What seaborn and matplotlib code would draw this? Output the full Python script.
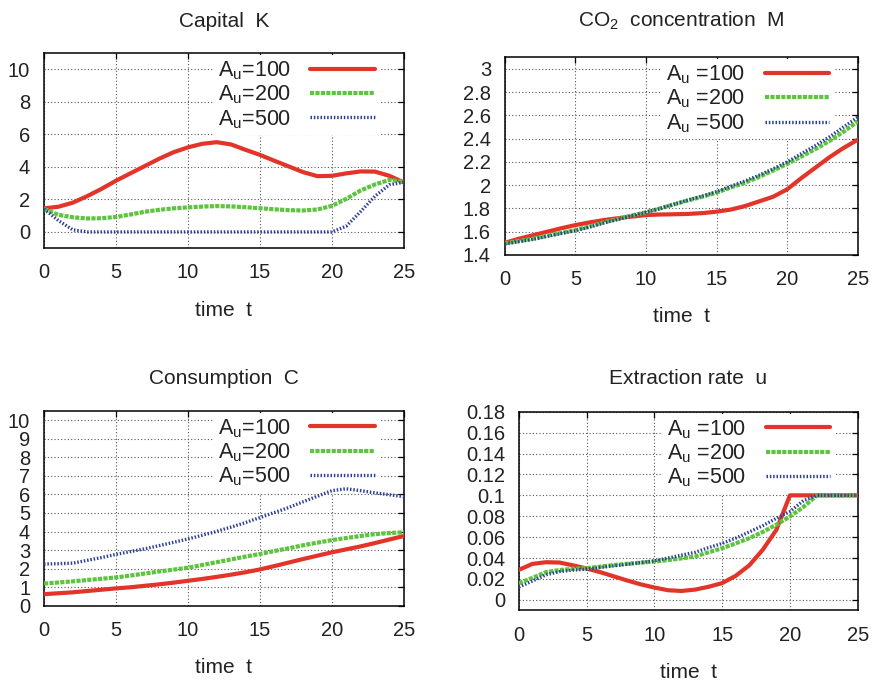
import numpy as np
import pandas as pd
import seaborn as sns
import matplotlib
matplotlib.use("Agg")
import matplotlib.pyplot as plt

# ---------------- data ----------------
t = list(range(0, 26))

capital_100 = [1.45, 1.55, 1.8, 2.2, 2.65, 3.15, 3.6, 4.05, 4.5, 4.9, 5.2, 5.42, 5.52,
               5.38, 5.05, 4.74, 4.38, 4.03, 3.68, 3.43, 3.45, 3.6, 3.72, 3.71, 3.45, 3.05]
capital_200 = [1.41, 1.05, 0.9, 0.83, 0.84, 0.92, 1.07, 1.24, 1.36, 1.45, 1.51, 1.56, 1.59,
               1.57, 1.52, 1.46, 1.39, 1.34, 1.32, 1.38, 1.6, 2.03, 2.55, 2.92, 3.2, 3.09]
capital_500 = [1.41, 0.7, 0.13, 0, 0, 0, 0, 0, 0, 0, 0, 0, 0,
               0, 0, 0, 0, 0, 0, 0, 0, 0.35, 1.25, 2.2, 2.9, 3.05]

co2_100 = [1.505, 1.54, 1.57, 1.60, 1.63, 1.657, 1.68, 1.70, 1.716, 1.73, 1.743, 1.748, 1.75,
           1.753, 1.76, 1.772, 1.79, 1.82, 1.86, 1.90, 1.964, 2.06, 2.15, 2.24, 2.32, 2.39]
co2_200 = [1.50, 1.52, 1.54, 1.565, 1.59, 1.614, 1.645, 1.68, 1.71, 1.74, 1.767, 1.80, 1.835,
           1.87, 1.90, 1.936, 1.98, 2.02, 2.07, 2.125, 2.182, 2.245, 2.31, 2.38, 2.46, 2.547]
co2_500 = [1.495, 1.515, 1.535, 1.56, 1.585, 1.609, 1.64, 1.675, 1.705, 1.737, 1.767, 1.80, 1.837,
           1.873, 1.907, 1.944, 1.99, 2.035, 2.085, 2.14, 2.20, 2.27, 2.34, 2.415, 2.50, 2.584]

cons_100 = [0.63, 0.68, 0.73, 0.8, 0.87, 0.94, 1.0, 1.08, 1.16, 1.25, 1.35, 1.45, 1.56,
            1.68, 1.81, 1.96, 2.14, 2.33, 2.52, 2.7, 2.88, 3.04, 3.2, 3.38, 3.57, 3.76]
cons_200 = [1.2, 1.26, 1.32, 1.39, 1.46, 1.53, 1.63, 1.74, 1.85, 1.95, 2.05, 2.2, 2.35,
            2.5, 2.65, 2.79, 2.95, 3.1, 3.26, 3.4, 3.54, 3.65, 3.76, 3.86, 3.92, 3.96]
cons_500 = [2.25, 2.27, 2.3, 2.45, 2.6, 2.77, 2.92, 3.07, 3.24, 3.42, 3.6, 3.8, 4.01,
            4.24, 4.48, 4.75, 5.02, 5.29, 5.6, 5.9, 6.2, 6.3, 6.2, 6.08, 5.98, 5.88]

extr_100 = [0.0287, 0.0344, 0.036, 0.0357, 0.033, 0.030, 0.0265, 0.0225, 0.0185, 0.0148, 0.0118,
            0.0092, 0.0085, 0.0098, 0.0125, 0.016, 0.023, 0.033, 0.048, 0.067, 0.1,
            0.1, 0.1, 0.1, 0.1, 0.1]
extr_200 = [0.016, 0.021, 0.0265, 0.0285, 0.0297, 0.0303, 0.0318, 0.0333, 0.0345, 0.0356, 0.0367,
            0.038, 0.0397, 0.0415, 0.0455, 0.0494, 0.054, 0.059, 0.065, 0.072, 0.0797,
            0.089, 0.1, 0.1, 0.1, 0.1]
extr_500 = [0.0122, 0.018, 0.024, 0.027, 0.0285, 0.0293, 0.031, 0.0325, 0.034, 0.0357, 0.0373,
            0.040, 0.0428, 0.0455, 0.05, 0.054, 0.059, 0.065, 0.071, 0.078, 0.0845,
            0.095, 0.1, 0.1, 0.1, 0.1]

labels_tight = ["A$_{u}$=100", "A$_{u}$=200", "A$_{u}$=500"]
labels_spaced = ["A$_{u}$ =100", "A$_{u}$ =200", "A$_{u}$ =500"]

titles = ["Capital  K", "CO$_{2}$  concentration  M", "Consumption  C", "Extraction rate  u"]
xlabel = "time  t"

# ---------------- style ----------------
sns.set_theme(style="white")
plt.rcParams["font.family"] = ["Liberation Sans", "DejaVu Sans"]
plt.rcParams["mathtext.default"] = "regular"

colors = ["#e3342a", "#5cc43e", "#2c3f9c"]
widths = [3.0, 3.0, 2.4]
styles = ["-", (0, (1.0, 0.3)), (0, (0.45, 0.55))]

fig = plt.figure(figsize=(8.72, 6.8), dpi=100)

positions = [
    [0.0505, 0.635, 0.4125, 0.287],
    [0.579, 0.625, 0.4046, 0.291],
    [0.0505, 0.109, 0.4125, 0.287],
    [0.595, 0.1025, 0.3886, 0.292],
]
series = [
    (capital_100, capital_200, capital_500),
    (co2_100, co2_200, co2_500),
    (cons_100, cons_200, cons_500),
    (extr_100, extr_200, extr_500),
]
ylims = [(-1, 11), (1.4, 3.1), (0, 10.5), (-0.01, 0.18)]
yticks = [np.arange(0, 11, 2), np.round(np.arange(1.4, 3.01, 0.2), 1),
          np.arange(0, 11, 1), np.round(np.arange(0, 0.181, 0.02), 2)]
ytick_labels = [
    ["0", "2", "4", "6", "8", "10"],
    ["1.4", "1.6", "1.8", "2", "2.2", "2.4", "2.6", "2.8", "3"],
    [str(i) for i in range(11)],
    ["0", "0.02", "0.04", "0.06", "0.08", "0.1", "0.12", "0.14", "0.16", "0.18"],
]
leg_labels = [labels_tight, labels_spaced, labels_tight, labels_spaced]
title_pads = [19, 22, 19, 20]

for i in range(4):
    ax = fig.add_axes(positions[i])
    for j in range(3):
        df = pd.DataFrame({"t": t, "v": series[i][j]})
        sns.lineplot(data=df, x="t", y="v", ax=ax, color=colors[j], linewidth=widths[j],
                     linestyle=styles[j], label=leg_labels[i][j], estimator=None, sort=False,
                     zorder=3)
    ax.set_xlim(0, 25)
    ax.set_ylim(*ylims[i])
    ax.set_xticks([0, 5, 10, 15, 20, 25])
    ax.set_xticklabels(["0", "5", "10", "15", "20", "25"])
    ax.set_yticks(yticks[i])
    ax.set_yticklabels(ytick_labels[i])
    ax.tick_params(axis="both", direction="in", length=4, width=0.9, labelsize=14.5,
                   top=True, right=True, color="black", labelcolor="#222222")
    ax.tick_params(axis="x", pad=11)
    ax.tick_params(axis="y", pad=10)
    ax.grid(True, color="#555555", linestyle=(0, (1, 2)), linewidth=0.8)
    for sp in ax.spines.values():
        sp.set_color("black")
        sp.set_linewidth(1.1)
    ax.set_xlabel(xlabel, fontsize=15, labelpad=13, color="#222222")
    ax.set_ylabel("")
    ax.set_title(titles[i], fontsize=15, pad=title_pads[i], color="#222222")
    leg = ax.legend(loc="upper right", bbox_to_anchor=(0.932, 0.99), borderaxespad=0,
                    frameon=True, facecolor="white", edgecolor="none", framealpha=1,
                    fancybox=False, markerfirst=False, handlelength=3.0, handletextpad=0.9,
                    labelspacing=0.08, borderpad=0.2, fontsize=15.5)
    leg.set_zorder(1.5)
    for txt in leg.get_texts():
        txt.set_color("#222222")

fig.savefig("out.png", dpi=100)
